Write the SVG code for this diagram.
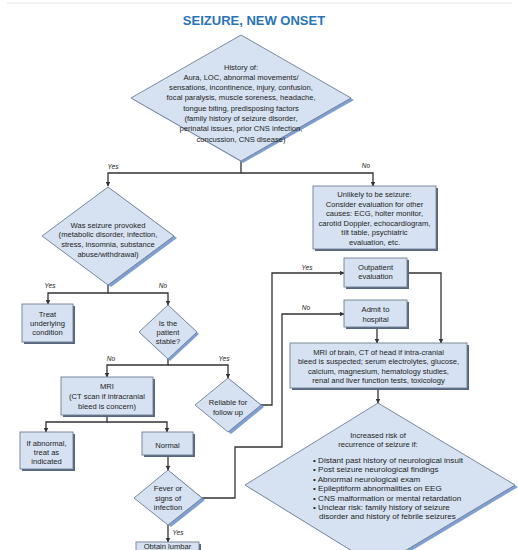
<svg xmlns="http://www.w3.org/2000/svg" width="518" height="550" viewBox="0 0 518 550">
<style>
.node{fill:#d6e2f2;stroke:#6f7e92;stroke-width:0.9}
.dsh{fill:#7d9fd2}
.bsh{fill:#56667e}
.t{font-family:"Liberation Sans",Arial,sans-serif;font-size:7.6px;fill:#222;text-anchor:middle}
.tl{font-family:"Liberation Sans",Arial,sans-serif;font-size:8.1px;fill:#222}
.lbl{font-family:"Liberation Sans",Arial,sans-serif;font-size:6.5px;font-style:italic;fill:#222;text-anchor:middle}
.edge{fill:none;stroke:#333;stroke-width:1.3}
.title{font-family:"Liberation Sans",Arial,sans-serif;font-size:13px;font-weight:bold;fill:#2a74ba;text-anchor:middle}
</style>
<defs>
<marker id="arr" markerWidth="5" markerHeight="5" refX="4.5" refY="2.5" orient="auto" markerUnits="userSpaceOnUse"><path d="M0,0 L5,2.5 L0,5 z" fill="#333"/></marker>
</defs>
<rect width="518" height="550" fill="#fff"/>
<line x1="7" y1="3" x2="512" y2="3" stroke="#ececec" stroke-width="1.5"/>
<text class="title" x="254" y="25">SEIZURE, NEW ONSET</text>

<g id="connectors">
<path class="edge" marker-end="url(#arr)" d="M241,161 V173 H108 V186"/>
<path class="edge" marker-end="url(#arr)" d="M241,173 H373 V186"/>
<path class="edge" marker-end="url(#arr)" d="M108,285 V293 H48 V304"/>
<path class="edge" marker-end="url(#arr)" d="M108,293 H168 V305"/>
<path class="edge" marker-end="url(#arr)" d="M168,359 V365 H107 V377"/>
<path class="edge" marker-end="url(#arr)" d="M168,365 H228 V378"/>
<path class="edge" marker-end="url(#arr)" d="M261,405 H272 V273 H344"/>
<path class="edge" marker-end="url(#arr)" d="M202,498 H235 V447 H282 V314 H344"/>
<path class="edge" marker-end="url(#arr)" d="M377,327 V343"/>
<path class="edge" marker-end="url(#arr)" d="M407,273 H441 V343"/>
<path class="edge" marker-end="url(#arr)" d="M107,415 V422 H46 V432"/>
<path class="edge" marker-end="url(#arr)" d="M107,422 H167 V432"/>
<path class="edge" marker-end="url(#arr)" d="M168,455 V470"/>
<path class="edge" marker-end="url(#arr)" d="M168,525 V542"/>
<path class="edge" marker-end="url(#arr)" d="M378,388 V403"/>
<text class="lbl" x="113" y="169">Yes</text>
<text class="lbl" x="366" y="168">No</text>
<text class="lbl" x="50" y="288">Yes</text>
<text class="lbl" x="163" y="288">No</text>
<text class="lbl" x="111" y="361">No</text>
<text class="lbl" x="224" y="361">Yes</text>
<text class="lbl" x="307" y="270">Yes</text>
<text class="lbl" x="306" y="310">No</text>
<text class="lbl" x="178" y="535">Yes</text>
</g>

<g id="history">
<polygon class="dsh" points="243,37 354,100 243,163 134,100"/>
<polygon class="node" points="241,35 351,98 241,161 131,98"/>
<text class="t" x="241" y="69.5">History of:<tspan x="241" dy="10.3">Aura, LOC, abnormal movements/</tspan><tspan x="241" dy="10.3">sensations, incontinence, injury, confusion,</tspan><tspan x="241" dy="10.3">focal paralysis, muscle soreness, headache,</tspan><tspan x="241" dy="10.3">tongue biting, predisposing factors</tspan><tspan x="241" dy="10.3">(family history of seizure disorder,</tspan><tspan x="241" dy="10.3">perinatal issues, prior CNS infection,</tspan><tspan x="241" dy="10.3">concussion, CNS disease)</tspan></text>
</g>

<g id="provoked">
<polygon class="dsh" points="111,189 177,238 111,287 45,238"/>
<polygon class="node" points="108,187 174,236 108,285 42,236"/>
<text class="t" x="108" y="227.5">Was seizure provoked<tspan x="108" dy="9.7">(metabolic disorder, infection,</tspan><tspan x="108" dy="9.7">stress, insomnia, substance</tspan><tspan x="108" dy="9.7">abuse/withdrawal)</tspan></text>
</g>

<g id="unlikely">
<rect class="bsh" x="315" y="188" width="123" height="63"/>
<rect class="node" x="313" y="186" width="123" height="63"/>
<text class="t" x="374.5" y="197">Unlikely to be seizure:<tspan x="374.5" dy="9.5">Consider evaluation for other</tspan><tspan x="374.5" dy="9.5">causes: ECG, holter monitor,</tspan><tspan x="374.5" dy="9.5">carotid Doppler, echocardiogram,</tspan><tspan x="374.5" dy="9.5">tilt table, psychiatric</tspan><tspan x="374.5" dy="9.5">evaluation, etc.</tspan></text>
</g>

<g id="treat">
<rect class="bsh" x="24" y="306" width="51" height="38"/>
<rect class="node" x="22" y="304" width="51" height="38"/>
<text class="t" x="47.5" y="316.5">Treat<tspan x="47.5" dy="9.2">underlying</tspan><tspan x="47.5" dy="9.2">condition</tspan></text>
</g>

<g id="stable">
<polygon class="dsh" points="170,307 199,334 170,361 141,334"/>
<polygon class="node" points="168,305 197,332 168,359 139,332"/>
<text class="t" x="168" y="325.5">Is the<tspan x="168" dy="9.2">patient</tspan><tspan x="168" dy="9.2">stable?</tspan></text>
</g>

<g id="outpatient">
<rect class="bsh" x="346" y="260" width="63" height="29"/>
<rect class="node" x="344" y="258" width="63" height="29"/>
<text class="t" x="375.5" y="270">Outpatient<tspan x="375.5" dy="9.4">evaluation</tspan></text>
</g>

<g id="admit">
<rect class="bsh" x="346" y="302" width="63" height="27"/>
<rect class="node" x="344" y="300" width="63" height="27"/>
<text class="t" x="375.5" y="312.3">Admit to<tspan x="375.5" dy="9.2">hospital</tspan></text>
</g>

<g id="workup">
<rect class="bsh" x="292" y="345" width="177" height="45"/>
<rect class="node" x="290" y="343" width="177" height="45"/>
<text class="t" x="378.5" y="354.6">MRI of brain, CT of head if intra-cranial<tspan x="378.5" dy="9.6">bleed is suspected; serum electrolytes, glucose,</tspan><tspan x="378.5" dy="9.6">calcium, magnesium, hematology studies,</tspan><tspan x="378.5" dy="9.6">renal and liver function tests, toxicology</tspan></text>
</g>

<g id="mri">
<rect class="bsh" x="63" y="379" width="92" height="38"/>
<rect class="node" x="61" y="377" width="92" height="38"/>
<text class="t" x="107" y="388.5">MRI<tspan x="107" dy="10.2">(CT scan if intracranial</tspan><tspan x="107" dy="10.2">bleed is concern)</tspan></text>
</g>

<g id="reliable">
<polygon class="dsh" points="231,380 264,407 231,434 198,407"/>
<polygon class="node" points="228,378 261,405 228,432 195,405"/>
<text class="t" x="228" y="405">Reliable for<tspan x="228" dy="9.6">follow up</tspan></text>
</g>

<g id="abnormal">
<rect class="bsh" x="22" y="434" width="53" height="37"/>
<rect class="node" x="20" y="432" width="53" height="37"/>
<text class="t" x="46.5" y="445.6">If abnormal,<tspan x="46.5" dy="9.2">treat as</tspan><tspan x="46.5" dy="9.2">indicated</tspan></text>
</g>

<g id="normal">
<rect class="bsh" x="144" y="434" width="51" height="23"/>
<rect class="node" x="142" y="432" width="51" height="23"/>
<text class="t" x="167.5" y="447.5">Normal</text>
</g>

<g id="fever">
<polygon class="dsh" points="171,472 205,500 171,527 137,500"/>
<polygon class="node" points="168,470 202,498 168,525 134,498"/>
<text class="t" x="168" y="491.3">Fever or<tspan x="168" dy="9.2">signs of</tspan><tspan x="168" dy="9.2">infection</tspan></text>
</g>

<g id="lumbar">
<rect class="bsh" x="138" y="544" width="63" height="20"/>
<rect class="node" x="136" y="542" width="63" height="20"/>
<text class="t" x="167.5" y="549">Obtain lumbar</text>
</g>

<g id="recurrence">
<polygon class="dsh" points="381,405 518,487 381,569 248,487"/>
<polygon class="node" points="378,403 515,485 378,567 245,485"/>
<text class="t" x="378" y="437.5">Increased risk of<tspan x="378" dy="9.3">recurrence of seizure if:</tspan></text>
<text class="tl" x="313" y="463">• Distant past history of neurological insult<tspan x="313" dy="9.4">• Post seizure neurological findings</tspan><tspan x="313" dy="9.4">• Abnormal neurological exam</tspan><tspan x="313" dy="9.4">• Epileptiform abnormalities on EEG</tspan><tspan x="313" dy="9.4">• CNS malformation or mental retardation</tspan><tspan x="313" dy="9.4">• Unclear risk: family history of seizure</tspan><tspan x="319" dy="9.4">disorder and history of febrile seizures</tspan></text>
</g>
</svg>
